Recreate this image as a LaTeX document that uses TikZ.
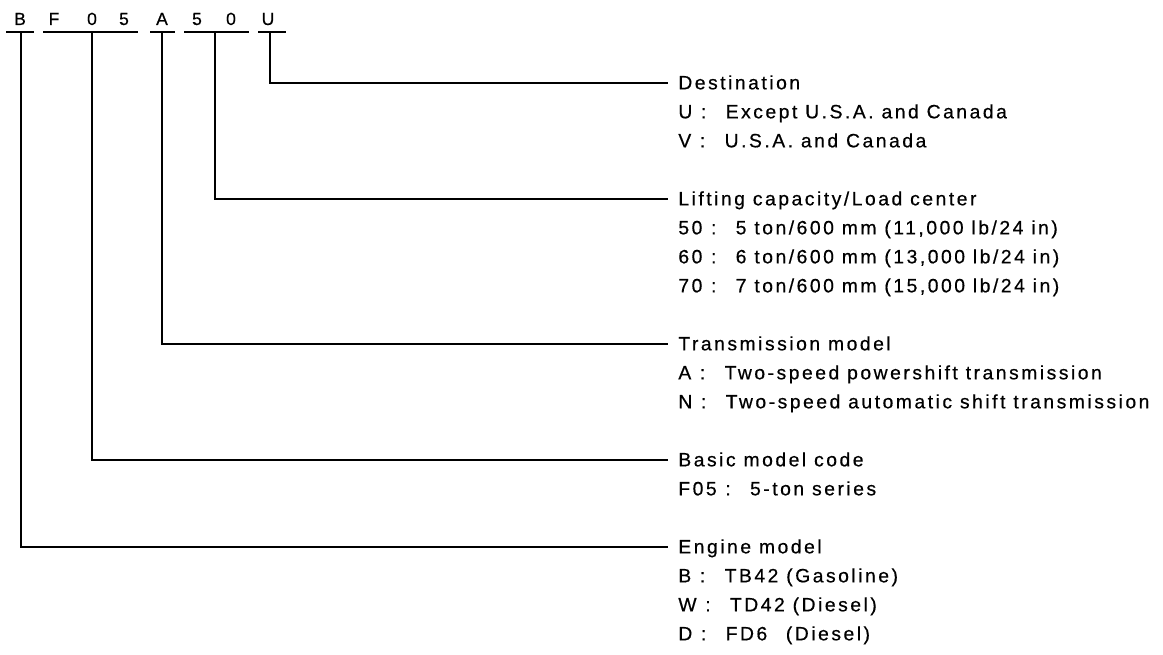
\documentclass[tikz,border=0pt]{standalone}
\usepackage{fontspec}
\setmainfont{Liberation Sans}[LetterSpace=13,FakeBold=0.5]
\newcommand{\tagfont}{\fontsize{11pt}{16pt}\selectfont}
\newcommand{\codefont}{\fontsize{10pt}{12pt}\selectfont}
\newcommand{\codeopt}[2]{#1\hspace{.45em}:\hspace{1em}#2}

\tikzset{
  codechar/.style={font=\codefont,inner sep=0pt,anchor=base},
  heading/.style={font=\tagfont,anchor=west,inner xsep=5.7pt,inner ysep=0pt,
    text height=0.72em,text depth=0pt},
  choice/.style={heading},
  lead/.style={line width=1.1pt}
}

\begin{document}
\begin{tikzpicture}[x=0.02cm,y=-0.02cm,line join=miter]
    \useasboundingbox (0,0) rectangle (1163,655);

    \foreach \ch/\xx [count=\k] in {B/20,F/54,0/92,5/124,A/162,5/197,0/231,U/268} {
        \node[codechar] (code\k) at (\xx,25) {\ch};
    }
    \foreach \a/\b in {6/34,43/138,150/175,184/249,258/286} {
        \draw[lead] (\a,32) -- (\b,32);
    }

    \coordinate (destTop) at (270,32);
    \coordinate (liftTop) at (215,32);
    \coordinate (transTop) at (162,32);
    \coordinate (basicTop) at (92,32);
    \coordinate (engTop) at (21,32);

    \node[heading] (dest) at (668,83) {Destination};
    \node[choice] (destU) at (668,112) {\codeopt{U}{Except U.S.A. and Canada}};
    \node[choice] (destV) at (668,141) {\codeopt{V}{U.S.A. and Canada}};

    \node[heading] (lift) at (668,199) {Lifting capacity/Load center};
    \node[choice] (lift50) at (668,228) {\codeopt{50}{5 ton/600 mm (11,000 lb/24 in)}};
    \node[choice] (lift60) at (668,257) {\codeopt{60}{6 ton/600 mm (13,000 lb/24 in)}};
    \node[choice] (lift70) at (668,286) {\codeopt{70}{7 ton/600 mm (15,000 lb/24 in)}};

    \node[heading] (trans) at (668,344) {Transmission model};
    \node[choice] (transA) at (668,373) {\codeopt{A}{Two-speed powershift transmission}};
    \node[choice] (transN) at (668,402) {\codeopt{N}{Two-speed automatic shift transmission}};

    \node[heading] (basic) at (668,460) {Basic model code};
    \node[choice] (basicF) at (668,489) {\codeopt{F05}{5-ton series}};

    \node[heading] (engine) at (668,547) {Engine model};
    \node[choice] (engB) at (668,576) {\codeopt{B}{TB42\ (Gasoline)}};
    \node[choice] (engW) at (668,605) {\codeopt{W}{TD42 (Diesel)}};
    \node[choice] (engD) at (668,634) {\codeopt{D}{FD6\phantom{2} (Diesel)}};

    \draw[lead] (destTop) |- (dest.west);
    \draw[lead] (liftTop) |- (lift.west);
    \draw[lead] (transTop) |- (trans.west);
    \draw[lead] (basicTop) |- (basic.west);
    \draw[lead] (engTop) |- (engine.west);
\end{tikzpicture}
\end{document}
